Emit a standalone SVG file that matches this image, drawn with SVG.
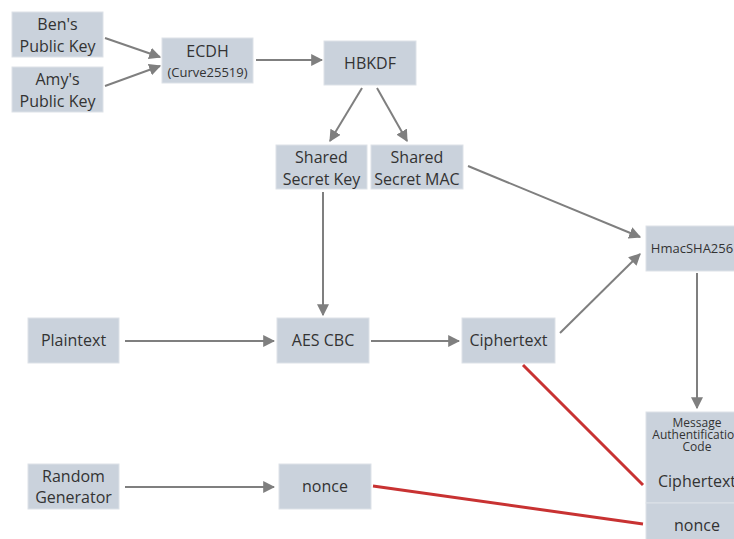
<svg xmlns="http://www.w3.org/2000/svg" width="734" height="539" viewBox="0 0 734 539">
<defs>
<style>
.box{fill:#cad2dc;stroke:#dde2e8;stroke-width:1}
.t{font-family:"Open Sans","DejaVu Sans",sans-serif;font-size:16px;fill:#333;text-anchor:middle}
.s{font-size:13px}
.m{font-size:13px}
.x{font-size:12px}
.a{stroke:#7f7f7f;stroke-width:2;fill:none;marker-end:url(#ah)}
.r{stroke:#c83232;stroke-width:3;fill:none}
</style>
<marker id="ah" viewBox="0 0 10 10" refX="9" refY="5" markerWidth="6" markerHeight="6" markerUnits="strokeWidth" orient="auto">
<path d="M0,0 L10,5 L0,10 z" fill="#7f7f7f"/>
</marker>
</defs>
<rect width="734" height="539" fill="#fff"/>
<g id="connectors">
<line class="a" x1="105" y1="38" x2="160" y2="57"/>
<line class="a" x1="105" y1="86" x2="160" y2="66"/>
<line class="a" x1="256" y1="60" x2="322" y2="60"/>
<line class="a" x1="362" y1="88" x2="330" y2="141"/>
<line class="a" x1="377" y1="88" x2="407" y2="141"/>
<line class="a" x1="468" y1="166" x2="640" y2="237"/>
<line class="a" x1="560" y1="333" x2="640" y2="254"/>
<line class="a" x1="697" y1="273" x2="697" y2="408"/>
<line class="a" x1="323" y1="192" x2="323" y2="315"/>
<line class="a" x1="125" y1="341" x2="274" y2="341"/>
<line class="a" x1="371" y1="341" x2="459" y2="341"/>
<line class="a" x1="125" y1="487" x2="274" y2="487"/>
<line class="r" x1="523" y1="365" x2="643" y2="485"/>
<line class="r" x1="373" y1="486" x2="643" y2="524"/>
</g>
<g id="ben"><rect class="box" x="12" y="12" width="91" height="45"/><text class="t" x="57.5" y="30">Ben's</text><text class="t" x="57.5" y="52">Public Key</text></g>
<g id="amy"><rect class="box" x="12" y="67" width="91" height="45"/><text class="t" x="57.5" y="85">Amy's</text><text class="t" x="57.5" y="107">Public Key</text></g>
<g id="ecdh"><rect class="box" x="162" y="38" width="91" height="45"/><text class="t" x="207.5" y="57">ECDH</text><text class="t s" x="207.5" y="77">(Curve25519)</text></g>
<g id="hbkdf"><rect class="box" x="324" y="41" width="92" height="44"/><text class="t" x="370" y="69">HBKDF</text></g>
<g id="ssk"><rect class="box" x="276" y="145" width="91" height="44"/><text class="t" x="321.5" y="163">Shared</text><text class="t" x="321.5" y="185">Secret Key</text></g>
<g id="ssm"><rect class="box" x="371" y="145" width="92" height="44"/><text class="t" x="417" y="163">Shared</text><text class="t" x="417" y="185">Secret MAC</text></g>
<g id="hmac"><rect class="box" x="646" y="226" width="92" height="45"/><text class="t m" x="692" y="253">HmacSHA256</text></g>
<g id="plaintext"><rect class="box" x="28" y="318" width="91" height="45"/><text class="t" x="73.5" y="346">Plaintext</text></g>
<g id="aes"><rect class="box" x="277" y="318" width="92" height="45"/><text class="t" x="323" y="346">AES CBC</text></g>
<g id="ciphertext"><rect class="box" x="462" y="318" width="93" height="45"/><text class="t" x="508.5" y="346">Ciphertext</text></g>
<g id="random"><rect class="box" x="28" y="464" width="91" height="45"/><text class="t" x="73.5" y="482">Random</text><text class="t" x="73.5" y="503">Generator</text></g>
<g id="nonce"><rect class="box" x="279" y="464" width="92" height="45"/><text class="t" x="325" y="492">nonce</text></g>
<g id="mac">
<rect class="box" x="646" y="412" width="92" height="91"/>
<rect class="box" x="646" y="503" width="92" height="40"/>
<text class="t x" x="697" y="427">Message</text>
<text class="t x" x="697" y="439">Authentification</text>
<text class="t x" x="697" y="451">Code</text>
<text class="t" x="697" y="487">Ciphertext</text>
<text class="t" x="697" y="531">nonce</text>
</g>
</svg>
